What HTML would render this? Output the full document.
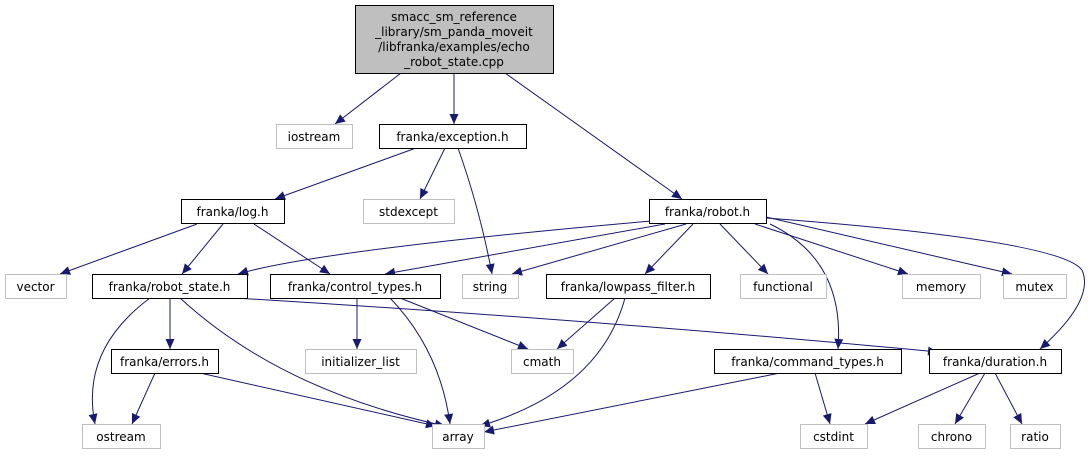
<!DOCTYPE html>
<html><head><meta charset="utf-8"><style>
body{margin:0;background:#fff}
svg text{font-family:"DejaVu Sans","Liberation Sans",sans-serif;font-size:12px;fill:#000}
</style></head><body>
<svg width="1091" height="455" viewBox="0 0 1091 455">
<defs><marker id="ah" viewBox="0 0 10 10" refX="10" refY="5" markerWidth="11" markerHeight="10" orient="auto" markerUnits="userSpaceOnUse"><path d="M0,0.5 L10,5 L0,9.5 z" fill="#191970"/></marker></defs>
<g fill="none" stroke="#191970" stroke-width="1" marker-end="url(#ah)">
<path d="M401,73 L335,124"/>
<path d="M454,73 L454,124"/>
<path d="M505,73 L682,199"/>
<path d="M416,148 L275,199"/>
<path d="M445,148 L420,199"/>
<path d="M458,148 Q480,210 492,274"/>
<path d="M197,224 L60,274"/>
<path d="M223,224 L182,274"/>
<path d="M254,224 L330,274"/>
<path d="M651,221 Q320,250 238,274"/>
<path d="M665,224 L385,274"/>
<path d="M686,224 L512,274"/>
<path d="M693,224 L645,274"/>
<path d="M720,224 L768,274"/>
<path d="M755,224 L908,274"/>
<path d="M766,217 L1012,274"/>
<path d="M770,224 Q845,260 838,349"/>
<path d="M766,218 Q1060,240 1082,270 Q1095,300 1040,349"/>
<path d="M170,298 L170,349"/>
<path d="M150,298 Q80,350 95,424"/>
<path d="M180,298 Q280,390 445,426"/>
<path d="M235,298 Q600,320 938,352"/>
<path d="M357,298 L357,349"/>
<path d="M390,298 Q440,350 450,424"/>
<path d="M400,298 L528,349"/>
<path d="M615,298 L557,349"/>
<path d="M625,298 Q600,390 480,426"/>
<path d="M155,373 L132,424"/>
<path d="M200,373 L436,426"/>
<path d="M780,373 L484,432"/>
<path d="M815,373 L830,424"/>
<path d="M980,373 L865,424"/>
<path d="M985,373 L955,424"/>
<path d="M995,373 L1022,424"/>
</g>
<g>
<g><rect x="355.5" y="5.5" width="198" height="68" fill="#bfbfbf" stroke="#000"/>
<text x="454" y="21" text-anchor="middle">smacc_sm_reference</text>
<text x="454" y="36" text-anchor="middle">_library/sm_panda_moveit</text>
<text x="454" y="51" text-anchor="middle">/libfranka/examples/echo</text>
<text x="454" y="66" text-anchor="middle">_robot_state.cpp</text></g>
<g id="n"></g>
</g>
</svg>
<script>
const nodes=[
["iostream",276,124,76,0],["franka/exception.h",379,124,147,1],
["franka/log.h",181,199,103,1],["stdexcept",363,199,91,0],["franka/robot.h",649,199,117,1],
["vector",5,274,61,0],["franka/robot_state.h",92,274,155,1],["franka/control_types.h",270,274,170,1],["string",462,274,56,0],["franka/lowpass_filter.h",546,274,164,1],["functional",740,274,86,0],["memory",902,274,78,0],["mutex",1003,274,63,0],
["franka/errors.h",111,349,107,1],["initializer_list",305,349,111,0],["cmath",511,349,62,0],["franka/command_types.h",714,349,187,1],["franka/duration.h",929,349,132,1],
["ostream",82,424,78,0],["array",432,424,52,0],["cstdint",800,424,67,0],["chrono",918,424,67,0],["ratio",1010,424,50,0]];
const g=document.getElementById('n');const NS="http://www.w3.org/2000/svg";
for(const [t,x,y,w,b] of nodes){
const gg=document.createElementNS(NS,'g');


const r=document.createElementNS(NS,'rect');
r.setAttribute('x',x+0.5);r.setAttribute('y',y+0.5);r.setAttribute('width',w);r.setAttribute('height',24);
r.setAttribute('fill','#fff');r.setAttribute('stroke',b?'#000':'#bfbfbf');
const tx=document.createElementNS(NS,'text');
tx.setAttribute('x',x+w/2);tx.setAttribute('y',y+17);tx.setAttribute('text-anchor','middle');
tx.textContent=t;gg.appendChild(r);gg.appendChild(tx);g.appendChild(gg);}
</script>
</body></html>
